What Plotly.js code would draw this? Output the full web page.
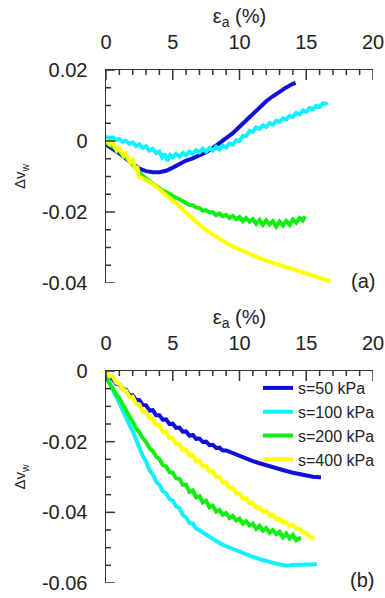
<!DOCTYPE html>
<html>
<head>
<meta charset="utf-8">
<script src="https://cdn.plot.ly/plotly-3.0.1.min.js"></script>
<style>html,body{margin:0;padding:0;background:#fff;}#chart{width:385px;height:598px;}</style>
</head>
<body>
<div id="chart"></div>
<script>
// ---------- Data: panel (a) ----------
const a_s50_x = [0,0.5,1,1.5,2,2.5,3,3.5,4,4.5,5,5.5,6,6.5,7,7.5,8,8.5,9,9.5,10,10.5,11,11.5,12,12.5,13,13.5,14,14.2];
const a_s50_y = [-0.0010,-0.0022,-0.0035,-0.0050,-0.0065,-0.0078,-0.0085,-0.0088,-0.0088,-0.0084,-0.0075,-0.0064,-0.0055,-0.0049,-0.0042,-0.0032,-0.0020,-0.0006,0.0008,0.0022,0.0040,0.0058,0.0078,0.0096,0.0112,0.0126,0.0139,0.0151,0.0161,0.0164];

const a_s100_x = [0,0.25,0.5,0.75,1,1.25,1.5,1.75,2,2.25,2.5,2.75,3,3.25,3.5,3.75,4,4.2,4.4,4.6,4.8,5,5.25,5.5,5.75,6,6.25,6.5,6.75,7,7.25,7.5,7.75,8,8.25,8.5,8.75,9,9.25,9.5,9.75,10,10.25,10.5,10.75,11,11.25,11.5,11.75,12,12.25,12.5,12.75,13,13.25,13.5,13.75,14,14.25,14.5,14.75,15,15.25,15.5,15.75,16,16.25,16.6];
const a_s100_y = [0.0012,0.0008,0.0010,0.0003,0.0006,-0.0002,0.0001,-0.0008,-0.0004,-0.0014,-0.0009,-0.0020,-0.0015,-0.0027,-0.0022,-0.0034,-0.0030,-0.0046,-0.0036,-0.0056,-0.0040,-0.0046,-0.0036,-0.0044,-0.0034,-0.0040,-0.0030,-0.0036,-0.0026,-0.0032,-0.0022,-0.0030,-0.0020,-0.0027,-0.0017,-0.0024,-0.0013,-0.0018,-0.0007,-0.0010,0.0002,0.0000,0.0014,0.0014,0.0028,0.0026,0.0038,0.0034,0.0044,0.0040,0.0050,0.0046,0.0057,0.0054,0.0064,0.0060,0.0071,0.0068,0.0079,0.0075,0.0086,0.0082,0.0093,0.0089,0.0099,0.0096,0.0106,0.0104];

const a_s200_x = [0,0.25,0.5,0.75,1,1.25,1.5,1.75,2,2.25,2.5,2.75,3,3.25,3.5,3.75,4,4.25,4.5,4.75,5,5.25,5.5,5.75,6,6.25,6.5,6.75,7,7.25,7.5,7.75,8,8.25,8.5,8.75,9,9.25,9.5,9.75,10,10.25,10.5,10.75,11,11.25,11.5,11.75,12,12.25,12.5,12.75,13,13.25,13.5,13.75,14,14.25,14.5,14.75,14.9];
const a_s200_y = [-0.0005,-0.0010,-0.0016,-0.0022,-0.0030,-0.0038,-0.0047,-0.0056,-0.0066,-0.0078,-0.0089,-0.0098,-0.0106,-0.0113,-0.0119,-0.0127,-0.0132,-0.0140,-0.0144,-0.0150,-0.0154,-0.0160,-0.0164,-0.0170,-0.0173,-0.0180,-0.0181,-0.0187,-0.0189,-0.0196,-0.0195,-0.0201,-0.0201,-0.0209,-0.0204,-0.0212,-0.0208,-0.0217,-0.0211,-0.0220,-0.0214,-0.0226,-0.0217,-0.0227,-0.0220,-0.0233,-0.0222,-0.0236,-0.0224,-0.0235,-0.0226,-0.0241,-0.0227,-0.0238,-0.0225,-0.0236,-0.0221,-0.0230,-0.0217,-0.0224,-0.0212];

const a_s400_x = [0,0.3,0.5,0.8,1.0,1.3,1.5,1.8,2.0,2.2,2.35,2.45,3,3.5,4,4.5,5,5.5,6,6.5,7,7.5,8,8.5,9,9.5,10,10.5,11,11.5,12,12.5,13,13.5,14,14.5,15,15.5,16,16.5,16.8];
const a_s400_y = [0.0003,-0.0010,-0.0005,-0.0027,-0.0020,-0.0042,-0.0035,-0.0060,-0.0053,-0.0077,-0.0072,-0.0100,-0.0110,-0.0121,-0.0136,-0.0151,-0.0167,-0.0184,-0.0202,-0.0220,-0.0236,-0.0251,-0.0264,-0.0276,-0.0287,-0.0297,-0.0306,-0.0315,-0.0323,-0.0330,-0.0337,-0.0343,-0.0349,-0.0354,-0.0359,-0.0365,-0.0371,-0.0378,-0.0385,-0.0391,-0.0395];

// ---------- Data: panel (b) ----------
const b_s50_x = [0,0.25,0.5,0.75,1,1.25,1.5,1.75,2,2.25,2.5,2.75,3,3.25,3.5,3.75,4,4.25,4.5,4.75,5,5.25,5.5,5.75,6,6.25,6.5,6.75,7,7.25,7.5,7.75,8,8.25,8.5,8.75,9,9.5,10,10.5,11,11.5,12,12.5,13,13.5,14,14.5,15,15.5,16,16.1];
const b_s50_y = [0.0000,-0.0016,-0.0022,-0.0036,-0.0037,-0.0052,-0.0053,-0.0068,-0.0069,-0.0082,-0.0082,-0.0096,-0.0097,-0.0112,-0.0111,-0.0125,-0.0125,-0.0138,-0.0137,-0.0150,-0.0149,-0.0161,-0.0160,-0.0172,-0.0171,-0.0183,-0.0181,-0.0192,-0.0191,-0.0201,-0.0200,-0.0210,-0.0209,-0.0218,-0.0217,-0.0225,-0.0225,-0.0233,-0.0241,-0.0248,-0.0255,-0.0261,-0.0267,-0.0273,-0.0278,-0.0283,-0.0288,-0.0292,-0.0296,-0.0299,-0.0301,-0.0301];

const b_s100_x = [0,0.25,0.5,0.75,1,1.25,1.5,1.75,2,2.25,2.5,2.75,3,3.25,3.5,3.75,4,4.25,4.5,4.75,5,5.25,5.5,5.75,6,6.25,6.5,6.75,7,7.5,8,8.5,9,9.5,10,10.5,11,11.5,12,12.5,13,13.5,14,14.5,15,15.5,15.8];
const b_s100_y = [-0.0010,-0.0032,-0.0050,-0.0072,-0.0090,-0.0112,-0.0130,-0.0152,-0.0170,-0.0195,-0.0214,-0.0240,-0.0256,-0.0280,-0.0292,-0.0313,-0.0322,-0.0340,-0.0346,-0.0362,-0.0367,-0.0383,-0.0388,-0.0407,-0.0414,-0.0430,-0.0432,-0.0446,-0.0451,-0.0464,-0.0476,-0.0487,-0.0496,-0.0504,-0.0512,-0.0519,-0.0526,-0.0532,-0.0538,-0.0543,-0.0547,-0.0551,-0.0549,-0.0549,-0.0548,-0.0547,-0.0547];

const b_s200_x = [0,0.25,0.5,0.75,1,1.25,1.5,1.75,2,2.25,2.5,2.75,3,3.25,3.5,3.75,4,4.25,4.5,4.75,5,5.25,5.5,5.75,6,6.25,6.5,6.75,7,7.25,7.5,7.75,8,8.25,8.5,8.75,9,9.25,9.5,9.75,10,10.25,10.5,10.75,11,11.25,11.5,11.75,12,12.25,12.5,12.75,13,13.25,13.5,13.75,14,14.25,14.6];
const b_s200_y = [-0.0020,-0.0036,-0.0047,-0.0064,-0.0077,-0.0096,-0.0110,-0.0128,-0.0144,-0.0162,-0.0173,-0.0190,-0.0201,-0.0218,-0.0226,-0.0242,-0.0249,-0.0266,-0.0270,-0.0286,-0.0288,-0.0304,-0.0305,-0.0322,-0.0322,-0.0342,-0.0338,-0.0358,-0.0354,-0.0372,-0.0367,-0.0386,-0.0381,-0.0398,-0.0393,-0.0407,-0.0402,-0.0416,-0.0410,-0.0423,-0.0418,-0.0432,-0.0425,-0.0437,-0.0432,-0.0447,-0.0438,-0.0452,-0.0444,-0.0458,-0.0450,-0.0462,-0.0455,-0.0471,-0.0460,-0.0474,-0.0464,-0.0479,-0.0471];

const b_s400_x = [0,0.25,0.5,0.75,1,1.25,1.5,1.75,2,2.25,2.5,2.75,3,3.25,3.5,3.75,4,4.25,4.5,4.75,5,5.25,5.5,5.75,6,6.25,6.5,6.75,7,7.25,7.5,7.75,8,8.25,8.5,8.75,9,9.25,9.5,9.75,10,10.25,10.5,10.75,11,11.25,11.5,11.75,12,12.25,12.5,12.75,13,13.25,13.5,13.75,14,14.25,14.5,14.75,15,15.25,15.6];
const b_s400_y = [0.0000,-0.0014,-0.0016,-0.0033,-0.0036,-0.0053,-0.0055,-0.0073,-0.0073,-0.0093,-0.0095,-0.0115,-0.0115,-0.0135,-0.0134,-0.0154,-0.0153,-0.0172,-0.0171,-0.0190,-0.0189,-0.0207,-0.0206,-0.0224,-0.0222,-0.0240,-0.0238,-0.0256,-0.0253,-0.0270,-0.0268,-0.0285,-0.0283,-0.0300,-0.0299,-0.0316,-0.0315,-0.0332,-0.0331,-0.0347,-0.0346,-0.0361,-0.0360,-0.0374,-0.0373,-0.0387,-0.0385,-0.0398,-0.0396,-0.0409,-0.0407,-0.0419,-0.0417,-0.0429,-0.0427,-0.0438,-0.0436,-0.0447,-0.0446,-0.0457,-0.0458,-0.0470,-0.0472];

const seriesNames = ['s=50 kPa','s=100 kPa','s=200 kPa','s=400 kPa'];
const seriesColors = ['#1010d8','#11f0ff','#11ee11','#ffff00'];

const xTickVals = [0,5,10,15,20];
const xTickText = ['0','5','10','15','20'];
const yaTickVals = [0.02,0,-0.02,-0.04];
const yaTickText = ['0.02','0','-0.02','-0.04'];
const ybTickVals = [0,-0.02,-0.04,-0.06];
const ybTickText = ['0','-0.02','-0.04','-0.06'];
const xMinorStep = 1;
const yMinorStep = 0.005;

const FONT = 'Arial, "Liberation Sans", sans-serif';

const aX = [a_s50_x,a_s100_x,a_s200_x,a_s400_x];
const aY = [a_s50_y,a_s100_y,a_s200_y,a_s400_y];
const bX = [b_s50_x,b_s100_x,b_s200_x,b_s400_x];
const bY = [b_s50_y,b_s100_y,b_s200_y,b_s400_y];

const traces = [];
for (let i = 0; i < 4; i++) {
  traces.push({x: aX[i], y: aY[i], xaxis: 'x', yaxis: 'y', mode: 'lines', name: seriesNames[i],
    showlegend: false, line: {color: seriesColors[i], width: 4}});
}
for (let i = 0; i < 4; i++) {
  traces.push({x: bX[i], y: bY[i], xaxis: 'x2', yaxis: 'y2', mode: 'lines', name: seriesNames[i],
    legendgroup: 'g' + i, showlegend: true, line: {color: seriesColors[i], width: 4}});
}

// Tick marks pointing into the plot, placed through the axes' own scales
const TICKC = '#333';
const shapes = [];
function addXTicks(xa, ya) {
  for (let k = 0; k <= 20 / xMinorStep; k++) {
    const v = k * xMinorStep;
    const major = xTickVals.indexOf(v) >= 0;
    shapes.push({type: 'line', layer: 'above', xref: xa, yref: ya + ' domain', ysizemode: 'pixel', yanchor: 1,
      x0: v, x1: v, y0: 0, y1: -(major ? 10 : 5), line: {color: TICKC, width: 1.5}});
  }
}
function addYTicks(xa, ya, majors) {
  const lo = Math.min.apply(null, majors), hi = Math.max.apply(null, majors);
  const n = Math.round((hi - lo) / yMinorStep);
  for (let k = 0; k <= n; k++) {
    const v = +(lo + k * yMinorStep).toFixed(4);
    const major = majors.some(m => Math.abs(m - v) < 1e-9);
    shapes.push({type: 'line', layer: 'above', xref: xa + ' domain', yref: ya, xsizemode: 'pixel', xanchor: 0,
      x0: 0, x1: major ? 9 : 5, y0: v, y1: v, line: {color: TICKC, width: 1.5}});
  }
}
addXTicks('x', 'y'); addXTicks('x2', 'y2');
addYTicks('x', 'y', yaTickVals); addYTicks('x2', 'y2', ybTickVals);

function xAxis(anchor) {
  return {
    domain: [106/385, 373/385], anchor: anchor, side: 'top', range: [0, 20],
    tickmode: 'array', tickvals: xTickVals, ticktext: xTickText, ticks: '',
    showline: true, linecolor: TICKC, linewidth: 1.5, showgrid: false, zeroline: false, automargin: false,
    tickfont: {family: FONT, size: 20}, ticklabelstandoff: 12,
    title: {text: 'ε<sub>a</sub> (%)', font: {family: FONT, size: 20}, standoff: 0}
  };
}
function yAxis(domain, range, tv, tt, anchor) {
  return {
    domain: domain, anchor: anchor, range: range,
    tickmode: 'array', tickvals: tv, ticktext: tt, ticks: '',
    showline: true, linecolor: TICKC, linewidth: 1.5, showgrid: false, zeroline: false, automargin: false,
    tickfont: {family: FONT, size: 20}, ticklabelstandoff: 13,
    title: {text: 'Δv<sub>w</sub>', font: {family: FONT, size: 15}, standoff: 12}
  };
}

const layout = {
  width: 385, height: 598,
  margin: {l: 0, r: 0, t: 0, b: 0, pad: 0},
  paper_bgcolor: '#fff', plot_bgcolor: '#fff',
  font: {family: FONT, color: '#222'},
  xaxis: xAxis('y'),
  yaxis: yAxis([1-283/598, 1-70/598], [-0.04, 0.02], yaTickVals, yaTickText, 'x'),
  xaxis2: xAxis('y2'),
  yaxis2: yAxis([1-583/598, 1-371/598], [-0.06, 0], ybTickVals, ybTickText, 'x2'),
  showlegend: true,
  legend: {x: 258/385, xanchor: 'left', y: 1-371/598, yanchor: 'top',
    bgcolor: 'rgba(0,0,0,0)', borderwidth: 0, tracegroupgap: 0,
    font: {family: FONT, size: 16}},
  shapes: shapes,
  annotations: [
    {text: '(a)', xref: 'paper', yref: 'paper', x: 363/385, y: 1-281/598, xanchor: 'center', yanchor: 'middle', showarrow: false, font: {family: FONT, size: 20}},
    {text: '(b)', xref: 'paper', yref: 'paper', x: 362/385, y: 1-580/598, xanchor: 'center', yanchor: 'middle', showarrow: false, font: {family: FONT, size: 20}}
  ]
};

Plotly.newPlot('chart', traces, layout, {displayModeBar: false, staticPlot: true});
</script>
</body>
</html>
